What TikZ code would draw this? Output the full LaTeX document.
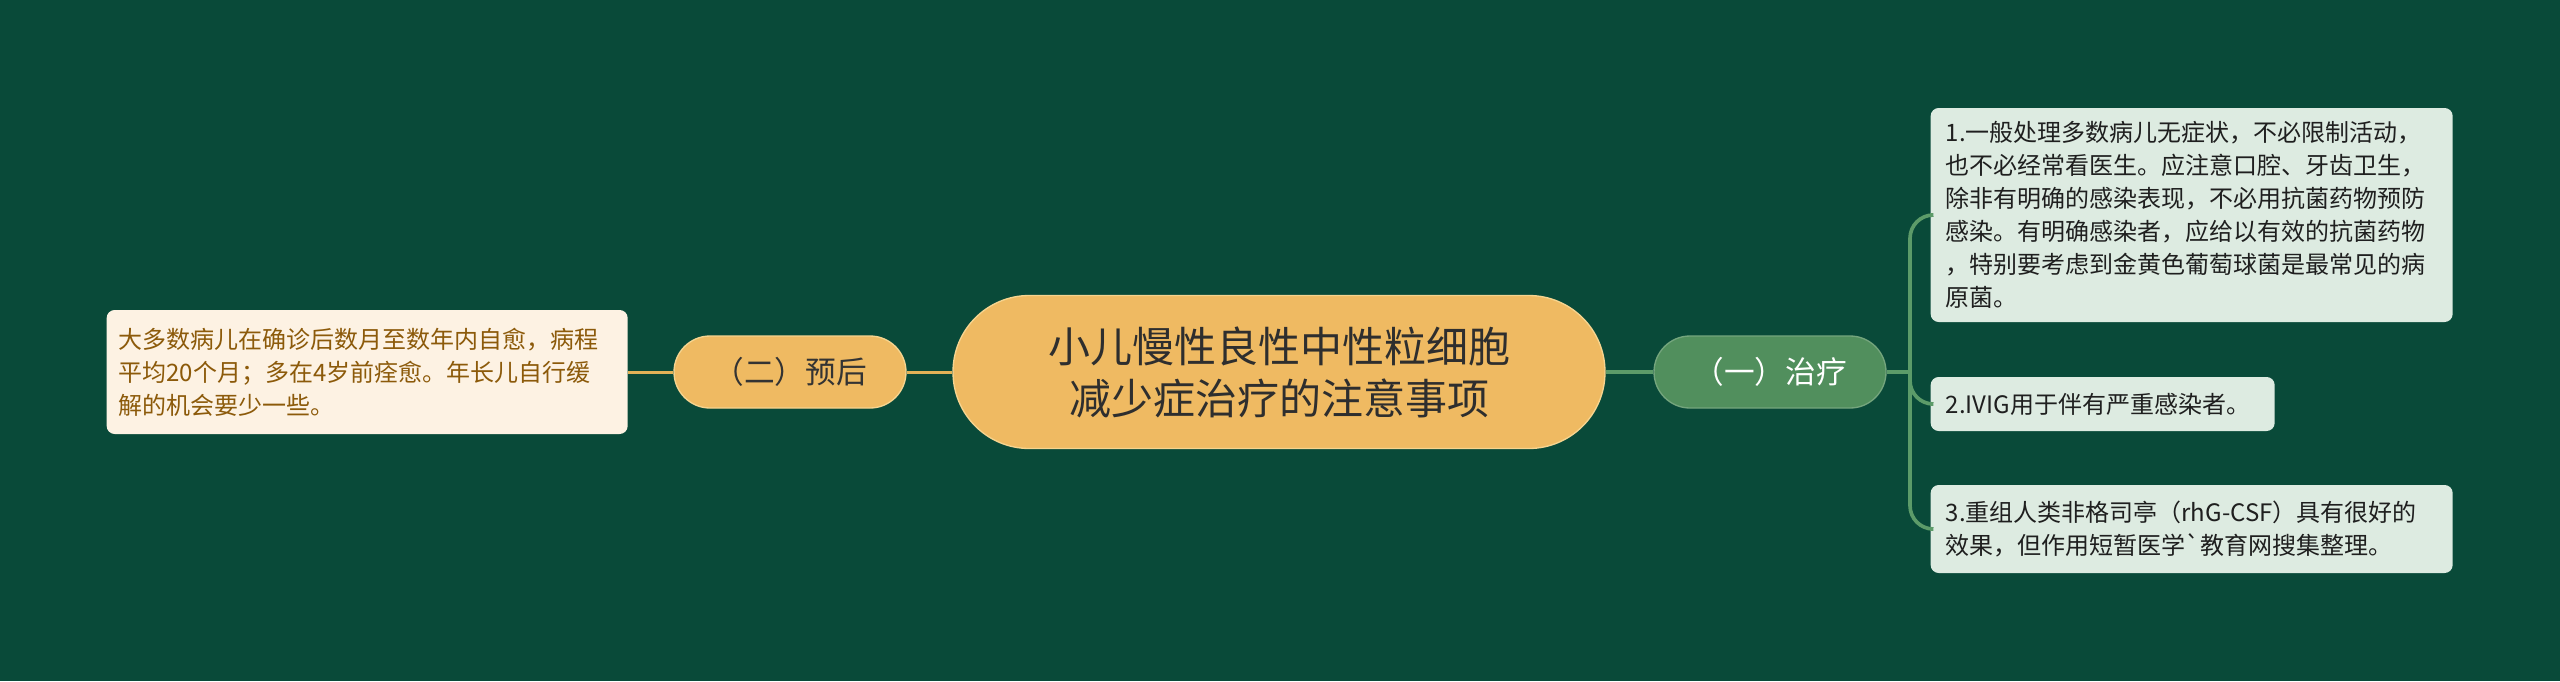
\documentclass[tikz,border=0pt]{standalone}
\usepackage{fontspec}
\setmainfont{Noto Sans CJK SC}

\definecolor{bgc}{HTML}{094A39}
\definecolor{orfill}{HTML}{EFBA62}
\definecolor{ordraw}{HTML}{F6D48F}
\definecolor{orline}{HTML}{E2B257}
\definecolor{creamfill}{HTML}{FDF2E3}
\definecolor{browntext}{HTML}{8C5A0A}
\definecolor{grfill}{HTML}{518F5D}
\definecolor{grline}{HTML}{5C9B69}
\definecolor{mintfill}{HTML}{DDEBE1}

\begin{document}
\begin{tikzpicture}[x=0.3pt,y=-0.3pt,
      root/.style = {shape=rectangle, rounded corners=22.9pt, draw=ordraw,
        line width=0.4pt, fill=orfill, minimum width=195.6pt,
        minimum height=45.9pt, align=center, text=black!82,
        font=\fontsize{12.6}{15.6}\selectfont},
      branch/.style = {shape=rectangle, rounded corners=10.8pt,
        minimum width=69.6pt, minimum height=21.6pt, line width=0.4pt,
        font=\fontsize{9.2}{11}\selectfont},
      leaf/.style = {shape=rectangle, rounded corners=2.4pt, anchor=west,
        align=left, inner xsep=4.5pt, font=\fontsize{7.2}{9.9}\selectfont},
      okleaf/.style = {leaf, fill=mintfill, text=black!88},
      ynleaf/.style = {leaf, fill=creamfill, text=browntext, inner xsep=3.6pt},
      oline/.style = {draw=orline, line width=0.9pt},
      gline/.style = {draw=grline, line width=1.1pt, rounded corners=7pt}]
  \useasboundingbox (0,0) rectangle (2560,681);
  \fill[bgc] (0,0) rectangle (2560,681);

  % centre and the two branches
  \node[root] (root) at (1279,372) {小儿慢性良性中性粒细胞\\减少症治疗的注意事项};
  \node[branch, fill=orfill, draw=ordraw, text=black!80]
    (yuhou) at (790,372) {（二）预后};
  \node[branch, fill=grfill, draw=grfill!80!white, text=white]
    (zhiliao) at (1770,372) {（一）治疗};

  % leaves
  \node[ynleaf, text width=149.1pt, minimum height=37.2pt] (yh1) at (106,372)
    {大多数病儿在确诊后数月至数年内自愈，病程\\平均20个月；多在4岁前痊愈。年长儿自行缓\\解的机会要少一些。};
  \node[okleaf, text width=147.6pt, minimum height=64.2pt] (zl1) at (1930,215)
    {1.一般处理多数病儿无症状，不必限制活动，\\也不必经常看医生。应注意口腔、牙齿卫生，\\除非有明确的感染表现，不必用抗菌药物预防\\感染。有明确感染者，应给以有效的抗菌药物\\，特别要考虑到金黄色葡萄球菌是最常见的病\\原菌。};
  \node[okleaf, text width=94.2pt, minimum height=16.2pt] (zl2) at (1930,404)
    {2.IVIG用于伴有严重感染者。};
  \node[okleaf, text width=147.6pt, minimum height=26.4pt] (zl3) at (1930,529)
    {3.重组人类非格司亭（rhG-CSF）具有很好的\\效果，但作用短暂医学\textasciigrave 教育网搜集整理。};

  % connectors
  \draw[oline] (yh1.east) -- (yuhou.west);
  \draw[oline] (yuhou.east) -- (root.west);
  \draw[gline] (root.east) -- (zhiliao.west);
  \coordinate (zj) at (1910,372);
  \draw[gline] (zhiliao.east) -- (zj);
  \foreach \k in {zl1,zl2,zl3}
    \draw[gline] (zj) |- (\k.west);
\end{tikzpicture}
\end{document}
